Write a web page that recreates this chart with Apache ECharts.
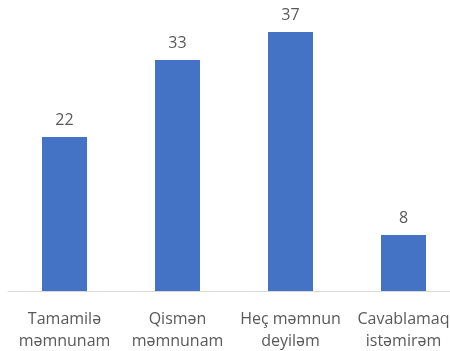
<!DOCTYPE html>
<html>
<head>
<meta charset="utf-8">
<script src="https://cdn.jsdelivr.net/npm/echarts@6/dist/echarts.min.js"></script>
<style>
  html, body { margin: 0; padding: 0; background: #fff; }
  #chart { width: 450px; height: 351px; }
</style>
</head>
<body>
<div id="chart"></div>
<script>
// survey answers and counts
const categories = ["Tamamilə\nməmnunam", "Qismən\nməmnunam", "Heç məmnun\ndeyiləm", "Cavablamaq\nistəmirəm"];
const counts = [22, 33, 37, 8];

const textColor = "#595959";
const chart = echarts.init(document.getElementById("chart"));
chart.setOption({
  animation: false,
  grid: { left: 8, width: 452, top: 11, height: 280, outerBoundsMode: "none", containLabel: false },
  xAxis: {
    type: "category",
    data: categories,
    axisLine: { lineStyle: { color: "#d9d9d9", width: 1 } },
    axisTick: { show: false },
    axisLabel: {
      color: textColor,
      fontFamily: "Open Sans",
      fontSize: 16,
      lineHeight: 22,
      margin: 17,
      interval: 0
    }
  },
  yAxis: {
    type: "value",
    min: 0,
    max: 40,
    show: false
  },
  series: [
    {
      type: "bar",
      data: counts,
      barWidth: 45,
      itemStyle: { color: "#4472c4" },
      label: {
        show: true,
        position: "top",
        distance: 9,
        color: textColor,
        fontFamily: "Open Sans",
        fontSize: 16
      }
    }
  ]
});
</script>
</body>
</html>
